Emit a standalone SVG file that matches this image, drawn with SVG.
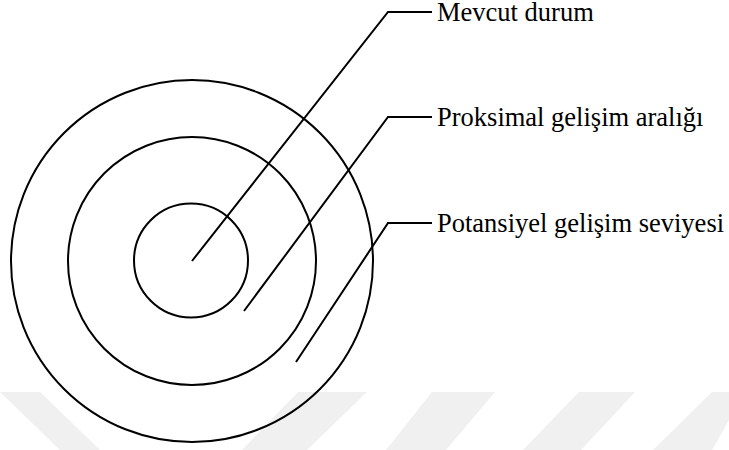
<svg xmlns="http://www.w3.org/2000/svg" width="729" height="450" viewBox="0 0 729 450">
  <style>
    .ring { fill: none; stroke: #000; stroke-width: 2; }
    .lead { fill: none; stroke: #000; stroke-width: 2; stroke-linejoin: miter; }
    .lbl { font-family: "Liberation Serif", "Times New Roman", serif; font-size: 26.5px; fill: #000; }
    .wm { fill: #f0f0f0; }
  </style>
  <rect width="729" height="450" fill="#fff"/>
  <g id="watermark">
    <polygon class="wm" points="0,392 40,392 100,450 60,450 0,392"/>
    <polygon class="wm" points="298,392 367,392 307,450 242,450"/>
    <polygon class="wm" points="432,392 495,392 446,450 386,450"/>
    <polygon class="wm" points="579,392 635,392 581,450 523,450"/>
    <polygon class="wm" points="712,392 729,392 729,420 712,450 653,450"/>
  </g>
  <g id="outer-circle"><circle class="ring" cx="192" cy="261" r="181"/></g>
  <g id="middle-circle"><circle class="ring" cx="192" cy="261" r="124"/></g>
  <g id="inner-circle"><circle class="ring" cx="191" cy="260.5" r="57"/></g>
  <g id="connectors">
    <polyline class="lead" points="192,261 388,12 432,12"/>
    <polyline class="lead" points="244,311 388,117 432,117"/>
    <polyline class="lead" points="296,362 388,223 432,223"/>
  </g>
  <g id="label-mevcut"><text class="lbl" x="437" y="21">Mevcut durum</text></g>
  <g id="label-proksimal"><text class="lbl" x="437" y="126">Proksimal gelişim aralığı</text></g>
  <g id="label-potansiyel"><text class="lbl" x="437" y="232">Potansiyel gelişim seviyesi</text></g>
</svg>
